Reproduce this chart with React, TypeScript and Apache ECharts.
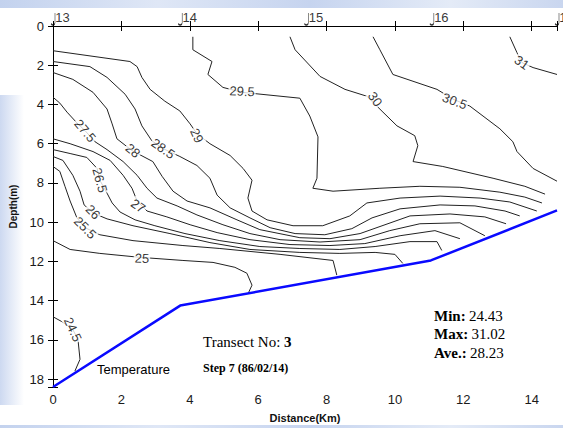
import React, { useEffect, useRef } from "react";
import * as echarts from "echarts";

// Transect 3 temperature section: contour lines in (distance km, depth m)
const xMax = 14.74;
const yMax = 18.4;
const distanceTicks = [0, 2, 4, 6, 8, 10, 12, 14];
const depthTicks = [0, 2, 4, 6, 8, 10, 12, 14, 16, 18];

const stationKm = [0, 3.72, 7.41, 11.08, 14.74];
const stationNames = ["13", "14", "15", "16", "17"];

const bottomKm = [0, 3.72, 11.05, 14.74];
const bottomDepth = [18.4, 14.25, 11.95, 9.4];

const iso245 = [[0, 14.82], [0.26, 15.07], [0.58, 15.47], [0.73, 15.98], [0.79, 16.99], [0.64, 17.59]];
const iso25 = [[0, 10.94], [0.5, 11.39], [1.37, 11.59], [2.54, 11.79], [3.8, 11.95], [4.68, 12.05], [5.32, 12.3], [5.67, 12.6], [5.82, 13.21], [5.7, 13.66]];
const iso255 = [[0, 7.16], [0.2, 7.41], [0.35, 8.17], [0.5, 8.92], [0.7, 9.78], [0.94, 10.28], [1.37, 10.64], [2.34, 10.94], [3.8, 11.19], [4.88, 11.34], [6.64, 11.64], [8.19, 11.95], [8.3, 12.7]];
const iso26 = [[0, 6.65], [0.29, 6.85], [0.58, 7.61], [0.79, 8.42], [0.91, 9.12], [1.17, 9.53], [1.58, 9.83], [2.34, 10.18], [3.42, 10.58], [4.59, 11.04], [5.76, 11.39], [7.22, 11.54], [8.39, 11.59], [9.42, 11.54], [10.0, 11.64], [10.23, 12.1]];
const iso265 = [[0, 6.3], [0.5, 6.5], [0.99, 6.7], [1.29, 7.26], [1.37, 7.86], [1.58, 8.52], [1.73, 9.02], [1.96, 9.48], [2.4, 9.88], [2.98, 10.18], [3.86, 10.58], [4.88, 10.94], [6.05, 11.24], [7.22, 11.34], [8.39, 11.39], [9.42, 11.24], [10.44, 10.99], [11.23, 10.99], [11.37, 11.44]];
const iso27 = [[0, 5.75], [0.5, 6.0], [1.17, 6.4], [1.67, 6.85], [2.05, 7.61], [2.31, 8.27], [2.46, 8.92], [2.75, 9.43], [3.33, 9.73], [4.01, 10.13], [4.8, 10.53], [5.76, 10.89], [6.93, 11.14], [8.1, 11.19], [9.12, 11.09], [10.15, 10.69], [11.17, 10.43], [11.9, 10.84]];
const iso275 = [[0, 3.63], [0.2, 3.93], [0.41, 4.39], [0.7, 4.94], [0.94, 5.34], [1.23, 5.9], [1.58, 6.3], [2.05, 6.91], [2.46, 7.61], [2.75, 8.27], [3.04, 8.77], [3.63, 9.17], [4.21, 9.63], [4.97, 10.13], [5.76, 10.58], [6.64, 10.89], [7.81, 11.01], [8.98, 10.89], [9.85, 10.43], [10.73, 10.08], [11.9, 10.03], [12.63, 10.69]];
const iso28 = [[0, 2.37], [0.58, 2.72], [1.17, 3.38], [1.58, 4.23], [1.73, 4.99], [1.87, 5.75], [2.31, 6.35], [2.92, 6.91], [3.19, 7.66], [3.51, 8.42], [3.92, 8.92], [4.59, 9.27], [5.38, 9.88], [6.05, 10.38], [7.22, 10.79], [8.1, 10.84], [8.98, 10.58], [9.71, 10.13], [10.44, 9.68], [11.61, 9.58], [12.63, 9.73], [13.25, 10.08]];
const iso285 = [[0, 1.81], [1.08, 2.07], [1.58, 2.62], [2.11, 3.48], [2.4, 4.23], [2.6, 5.09], [2.89, 5.85], [3.22, 6.25], [3.71, 6.65], [4.21, 7.11], [4.59, 7.76], [4.8, 8.62], [5.18, 9.27], [5.76, 9.78], [6.35, 10.28], [7.08, 10.58], [7.95, 10.64], [8.74, 10.33], [9.33, 9.78], [10.15, 9.32], [11.32, 9.12], [12.34, 9.17], [13.22, 9.43], [13.65, 9.68]];
const iso29 = [[0, 1.26], [2.25, 1.81], [2.46, 2.07], [2.6, 2.62], [2.84, 3.23], [3.27, 3.83], [3.71, 4.33], [4.01, 4.99], [4.21, 5.49], [4.59, 6.0], [5.18, 6.6], [5.56, 7.26], [5.82, 7.86], [5.7, 8.77], [5.82, 9.43], [6.26, 9.88], [7.02, 10.18], [7.89, 10.18], [8.68, 9.68], [9.18, 9.02], [10.15, 8.77], [11.32, 8.67], [12.49, 8.77], [13.36, 8.97], [14.15, 9.43]];
const iso295 = [[4.09, 0.55], [4.09, 1.21], [4.65, 1.81], [4.53, 2.47], [4.97, 3.13], [5.53, 3.38], [7.22, 3.68], [7.51, 4.59], [7.75, 5.65], [7.72, 7.76], [7.6, 8.27], [8.19, 8.42], [9.56, 8.27], [10.73, 8.17], [11.9, 8.22], [13.07, 8.47], [13.8, 8.72], [14.3, 9.02]];
const iso30 = [[6.93, 0.55], [7.08, 1.21], [7.81, 2.57], [8.54, 3.23], [9.18, 3.58], [9.65, 4.39], [10.06, 5.09], [10.58, 5.59], [10.67, 6.1], [10.53, 6.91], [11.4, 7.16], [12.87, 7.76], [13.8, 8.17], [14.39, 8.57]];
const iso305 = [[9.36, 0.55], [9.56, 1.21], [9.94, 2.47], [11.23, 3.23], [11.7, 3.73], [12.19, 4.08], [13.07, 5.24], [13.45, 5.9], [13.57, 6.4], [14.04, 7.26], [14.74, 7.91]];
const iso31 = [[13.36, 0.55], [13.57, 1.36], [13.71, 1.86], [14.04, 2.12], [14.74, 2.47]];

const contourLevels = [24.5, 25, 25.5, 26, 26.5, 27, 27.5, 28, 28.5, 29, 29.5, 30, 30.5, 31];
const contourLines = [iso245, iso25, iso255, iso26, iso265, iso27, iso275, iso28, iso285, iso29, iso295, iso30, iso305, iso31];

// inline contour labels
const labelLevels = [27.5, 28, 28.5, 29, 29.5, 30, 30.5, 31, 26.5, 27, 26, 25.5, 25, 24.5];
const labelKm = [0.94, 2.34, 3.22, 4.21, 5.53, 9.42, 11.75, 13.71, 1.37, 2.49, 1.17, 0.94, 2.6, 0.58];
const labelDepth = [5.34, 6.35, 6.25, 5.59, 3.33, 3.73, 3.83, 1.86, 7.86, 9.17, 9.48, 10.28, 11.84, 15.47];
const labelAngle = [-50, -40, -35, -65, -3, -55, -20, -35, -75, -35, -45, -45, -3, -65];

const statNames = ["Min:", "Max:", "Ave.:"];
const statValues = ["24.43", "31.02", "28.23"];

const sans = "Liberation Sans, Arial, sans-serif";
const serif = "Liberation Serif, Times New Roman, serif";

const tickFormatter = (v: number) =>
  distanceTicks.concat(depthTicks).some((t) => Math.abs(t - v) < 1e-6) ? String(Math.round(v)) : "";

export default function App() {
  const ref = useRef<HTMLDivElement>(null);

  useEffect(() => {
    if (!ref.current) return;
    const chart = echarts.init(ref.current, undefined, { renderer: "svg" });
    const axisLine = { show: true, lineStyle: { color: "#000", width: 1 } };
    const axisTick = { show: true, inside: true, length: 5, lineStyle: { color: "#000", width: 1 } };

    chart.setOption({
      animation: false,
      backgroundColor: "transparent",
      grid: { left: 53, top: 26, right: 6, bottom: 37, containLabel: false },
      xAxis: [
        {
          type: "value",
          position: "bottom",
          min: 0,
          max: xMax,
          interval: 2,
          axisLine,
          axisTick,
          splitLine: { show: false },
          axisLabel: { formatter: tickFormatter, color: "#1a1a1a", fontSize: 13, fontFamily: sans, margin: 6 },
          name: "Distance(Km)",
          nameLocation: "middle",
          nameGap: 25,
          nameTextStyle: { fontWeight: "bold", fontSize: 11, fontFamily: sans, color: "#111" },
        },
        {
          type: "value",
          position: "top",
          min: 0,
          max: xMax,
          interval: 2,
          axisLine,
          axisTick,
          splitLine: { show: false },
          axisLabel: { show: false },
        },
      ],
      yAxis: [
        {
          type: "value",
          position: "left",
          inverse: true,
          min: 0,
          max: yMax,
          interval: 2,
          axisLine,
          axisTick,
          splitLine: { show: false },
          axisLabel: { formatter: tickFormatter, color: "#1a1a1a", fontSize: 13, fontFamily: sans, margin: 9 },
          name: "Depth(m)",
          nameLocation: "middle",
          nameGap: 31,
          nameRotate: 90,
          nameTextStyle: { fontWeight: "bold", fontSize: 10, fontFamily: sans, color: "#111" },
        },
        {
          type: "value",
          position: "right",
          inverse: true,
          min: 0,
          max: yMax,
          interval: 2,
          axisLine,
          axisTick,
          splitLine: { show: false },
          axisLabel: { show: false },
        },
      ],
      series: [
        ...contourLines.map((pts, i) => ({
          type: "line",
          name: String(contourLevels[i]),
          data: pts,
          symbol: "none",
          showSymbol: false,
          silent: true,
          lineStyle: { color: "#222", width: 1 },
          z: 2,
        })),
        {
          type: "line",
          name: "bottom",
          data: bottomKm.map((k, i) => [k, bottomDepth[i]]),
          symbol: "none",
          silent: true,
          lineStyle: { color: "#0a0aff", width: 2.5 },
          z: 3,
        },
        {
          type: "scatter",
          name: "labels",
          silent: true,
          symbolSize: 1,
          itemStyle: { color: "rgba(0,0,0,0)" },
          data: labelKm.map((k, i) => ({
            name: String(labelLevels[i]),
            value: [k, labelDepth[i]],
            label: { rotate: labelAngle[i] },
          })),
          label: {
            show: true,
            position: "inside",
            formatter: "{b}",
            color: "#000",
            fontSize: 13,
            fontFamily: sans,
            backgroundColor: "#fff",
            padding: [0, 1],
          },
          z: 5,
        },
        {
          type: "scatter",
          name: "stations",
          xAxisIndex: 1,
          silent: true,
          clip: false,
          symbol: "path://M5,0 L5,11 C5,14 2,14 1,12",
          symbolSize: [4, 12],
          symbolOffset: [0, -7],
          itemStyle: { color: "rgba(0,0,0,0)", borderColor: "#000", borderWidth: 1 },
          data: stationKm.map((k, i) => ({ name: stationNames[i], value: [k, 0] })),
          label: {
            show: true,
            position: "right",
            distance: 0,
            offset: [0, -2],
            formatter: "{b}",
            color: "#000",
            fontSize: 13,
            fontFamily: sans,
          },
          z: 6,
        },
      ],
      graphic: [
        {
          type: "text",
          left: 203,
          top: 334,
          style: {
            text: "{a|Transect No: }{b|3}",
            rich: {
              a: { fontFamily: serif, fontSize: 15, fill: "#000" },
              b: { fontFamily: serif, fontSize: 15, fontWeight: "bold", fill: "#000" },
            },
          },
        },
        {
          type: "text",
          left: 203,
          top: 362,
          style: { text: "Step 7 (86/02/14)", font: `bold 12px ${serif}`, fill: "#000" },
        },
        {
          type: "text",
          left: 97,
          top: 363,
          style: { text: "Temperature", font: `13px ${sans}`, fill: "#000" },
        },
        ...statNames.map((n, i) => ({
          type: "text",
          left: 434,
          top: 308 + i * 18.5,
          style: {
            text: `{a|${n}} {b|${statValues[i]}}`,
            rich: {
              a: { fontFamily: serif, fontSize: 15, fontWeight: "bold", fill: "#000" },
              b: { fontFamily: serif, fontSize: 15, fill: "#000" },
            },
          },
        })),
      ],
    });
    return () => chart.dispose();
  }, []);

  return (
    <div
      style={{
        position: "fixed",
        left: 0,
        top: 0,
        width: 563,
        height: 428,
        overflow: "hidden",
        background: "linear-gradient(90deg, #c3d2ee 0%, #dfe7f6 28%, #c6d4ef 55%, #e4ebf7 80%, #c9d6ef 100%)",
      }}
    >
      <div
        style={{
          position: "absolute",
          left: 0,
          top: 8,
          width: 563,
          height: 417,
          background: "#fff",
        }}
      />
      <div
        style={{
          position: "absolute",
          left: 0,
          top: 95,
          width: 24,
          height: 310,
          background: "linear-gradient(90deg, rgba(196,210,238,0.85), rgba(255,255,255,0))",
        }}
      />
      <div ref={ref} style={{ position: "absolute", left: 0, top: 0, width: 563, height: 428 }} />
    </div>
  );
}
